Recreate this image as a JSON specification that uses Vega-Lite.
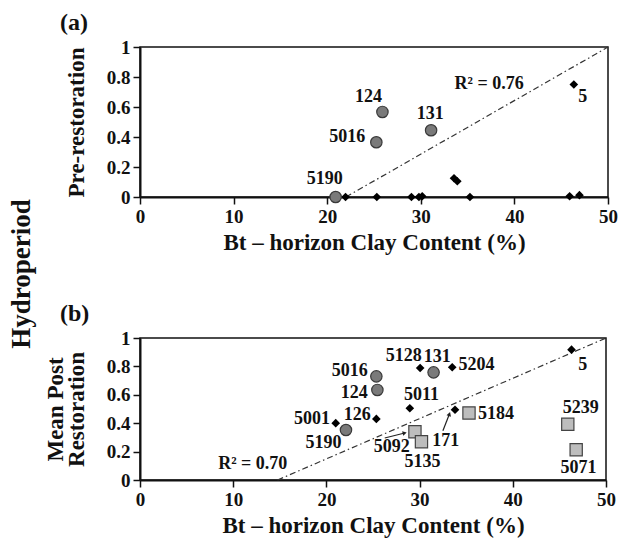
{
  "$schema": "https://vega.github.io/schema/vega-lite/v6.json",
  "background": "white",
  "padding": {"left": 7, "top": 10, "right": 10, "bottom": 5},
  "config": {
    "font": "Liberation Serif",
    "view": {"stroke": "#111", "strokeWidth": 1.5},
    "axis": {"grid": false, "domainColor": "#111", "domainWidth": 2, "tickColor": "#111", "tickWidth": 1.5, "tickSize": 7,
      "labelFont": "Liberation Serif", "labelFontWeight": "bold", "labelFontSize": 19, "labelColor": "#111", "labelPadding": 3, "labelOverlap": false, "labelBound": false, "labelFlush": false,
      "titleFont": "Liberation Serif", "titleFontWeight": "bold", "titleFontSize": 23, "titleColor": "#111"},
    "text": {"font": "Liberation Serif", "fontWeight": "bold", "fontSize": 18, "color": "#111"}
  },
  "title": {"text": "Hydroperiod", "orient": "left", "anchor": "middle", "fontSize": 27, "fontWeight": "bold", "font": "Liberation Serif", "color": "#111", "offset": 8},
  "datasets": {
    "ptsA": [
      {"site": "5190", "clay": 20.9, "hp": 0.0, "group": "circle"},
      {"site": "124", "clay": 25.9, "hp": 0.567, "group": "circle"},
      {"site": "5016", "clay": 25.25, "hp": 0.365, "group": "circle"},
      {"site": "131", "clay": 31.1, "hp": 0.445, "group": "circle"},
      {"site": "5", "clay": 46.35, "hp": 0.75, "group": "diamond"},
      {"site": "d1", "clay": 21.96, "hp": 0.0, "group": "diamond"},
      {"site": "d2", "clay": 25.3, "hp": 0.0, "group": "diamond"},
      {"site": "d3", "clay": 29.0, "hp": 0.0, "group": "diamond"},
      {"site": "d4", "clay": 29.8, "hp": 0.0, "group": "diamond"},
      {"site": "d5", "clay": 30.15, "hp": 0.005, "group": "diamond"},
      {"site": "d6", "clay": 33.55, "hp": 0.125, "group": "diamond"},
      {"site": "d7", "clay": 33.9, "hp": 0.105, "group": "diamond"},
      {"site": "d8", "clay": 35.25, "hp": 0.0, "group": "diamond"},
      {"site": "d9", "clay": 45.9, "hp": 0.005, "group": "diamond"},
      {"site": "d10", "clay": 46.95, "hp": 0.012, "group": "diamond"}
    ],
    "labA": [
      {"label": "124", "lx": 24.4, "ly": 0.67},
      {"label": "5016", "lx": 22.15, "ly": 0.40},
      {"label": "131", "lx": 31.0, "ly": 0.555},
      {"label": "5190", "lx": 19.75, "ly": 0.122},
      {"label": "5", "lx": 47.3, "ly": 0.665},
      {"label": "R² = 0.76", "lx": 37.3, "ly": 0.755}
    ],
    "fitA": [
      {"clay": 22.0, "hp": 0.0},
      {"clay": 50.0, "hp": 1.0}
    ],
    "ptsB": [
      {"site": "5016", "clay": 25.36, "hp": 0.73, "group": "circle"},
      {"site": "124", "clay": 25.47, "hp": 0.634, "group": "circle"},
      {"site": "131", "clay": 31.5, "hp": 0.758, "group": "circle"},
      {"site": "5190", "clay": 22.1, "hp": 0.352, "group": "circle"},
      {"site": "5", "clay": 46.3, "hp": 0.918, "group": "diamond"},
      {"site": "5128", "clay": 30.06, "hp": 0.789, "group": "diamond"},
      {"site": "5204", "clay": 33.5, "hp": 0.794, "group": "diamond"},
      {"site": "5011", "clay": 28.95, "hp": 0.505, "group": "diamond"},
      {"site": "171", "clay": 33.8, "hp": 0.495, "group": "diamond"},
      {"site": "126", "clay": 25.36, "hp": 0.43, "group": "diamond"},
      {"site": "5001", "clay": 21.0, "hp": 0.40, "group": "diamond"},
      {"site": "5092", "clay": 29.5, "hp": 0.34, "group": "square"},
      {"site": "5135", "clay": 30.2, "hp": 0.27, "group": "square"},
      {"site": "5184", "clay": 35.3, "hp": 0.472, "group": "square"},
      {"site": "5239", "clay": 45.9, "hp": 0.392, "group": "square"},
      {"site": "5071", "clay": 46.8, "hp": 0.213, "group": "square"}
    ],
    "labB": [
      {"label": "5128", "lx": 28.3, "ly": 0.87},
      {"label": "131", "lx": 31.9, "ly": 0.866},
      {"label": "5204", "lx": 36.1, "ly": 0.81},
      {"label": "5", "lx": 47.5, "ly": 0.81},
      {"label": "5016", "lx": 22.5, "ly": 0.768},
      {"label": "124", "lx": 23.0, "ly": 0.611},
      {"label": "5011", "lx": 30.2, "ly": 0.596},
      {"label": "126", "lx": 23.3, "ly": 0.458},
      {"label": "5001", "lx": 18.45, "ly": 0.428},
      {"label": "5184", "lx": 38.2, "ly": 0.463},
      {"label": "5239", "lx": 47.3, "ly": 0.506},
      {"label": "5190", "lx": 19.7, "ly": 0.259},
      {"label": "5092", "lx": 27.0, "ly": 0.229},
      {"label": "171", "lx": 32.8, "ly": 0.276},
      {"label": "5135", "lx": 30.3, "ly": 0.128},
      {"label": "5071", "lx": 47.05, "ly": 0.083},
      {"label": "R² = 0.70", "lx": 12.1, "ly": 0.116}
    ],
    "fitB": [
      {"clay": 14.76, "hp": 0.0},
      {"clay": 50.0, "hp": 1.0}
    ],
    "arrows": [
      {"label": "5092", "x1": 26.26, "y1": 0.296, "x2": 28.4, "y2": 0.331},
      {"label": "171", "x1": 32.5, "y1": 0.347, "x2": 33.2, "y2": 0.465}
    ]
  },
  "vconcat": [
    {
      "width": 468,
      "height": 150,
      "title": {"text": "(a)", "anchor": "start", "frame": "group", "dx": -80, "fontSize": 24, "fontWeight": "bold", "font": "Liberation Serif", "color": "#111", "offset": 3},
      "layer": [
        {
          "data": {"name": "fitA"},
          "mark": {"type": "line", "color": "#333", "strokeWidth": 1.2, "strokeDash": [6, 3, 1.5, 3]},
          "encoding": {
            "x": {"field": "clay", "type": "quantitative", "scale": {"domain": [0, 50]}, "axis": {"values": [0, 10, 20, 30, 40, 50], "title": "Bt – horizon Clay Content (%)", "titlePadding": 5}},
            "y": {"field": "hp", "type": "quantitative", "scale": {"domain": [0, 1]}, "axis": {"tickCount": 5, "labelOverlap": false, "format": "~g", "title": "Pre-restoration", "titlePadding": 18}}
          }
        },
        {
          "data": {"name": "ptsA"},
          "transform": [{"filter": "datum.group === 'diamond'"}],
          "mark": {"type": "point", "shape": "diamond", "filled": true, "color": "#000", "size": 75, "opacity": 1},
          "encoding": {
            "x": {"field": "clay", "type": "quantitative"},
            "y": {"field": "hp", "type": "quantitative"}
          }
        },
        {
          "data": {"name": "ptsA"},
          "transform": [{"filter": "datum.group === 'circle'"}],
          "mark": {"type": "point", "shape": "circle", "filled": true, "fill": "#7a7a7a", "stroke": "#3a3a3a", "strokeWidth": 1.2, "size": 130, "opacity": 1},
          "encoding": {
            "x": {"field": "clay", "type": "quantitative"},
            "y": {"field": "hp", "type": "quantitative"}
          }
        },
        {
          "data": {"name": "labA"},
          "mark": {"type": "text", "align": "center", "baseline": "middle"},
          "encoding": {
            "x": {"field": "lx", "type": "quantitative"},
            "y": {"field": "ly", "type": "quantitative"},
            "text": {"field": "label"}
          }
        }
      ]
    },
    {
      "width": 466,
      "height": 142,
      "title": {"text": "(b)", "anchor": "start", "frame": "group", "dx": -80, "fontSize": 24, "fontWeight": "bold", "font": "Liberation Serif", "color": "#111", "offset": 3},
      "layer": [
        {
          "data": {"name": "fitB"},
          "mark": {"type": "line", "color": "#333", "strokeWidth": 1.2, "strokeDash": [6, 3, 1.5, 3]},
          "encoding": {
            "x": {"field": "clay", "type": "quantitative", "scale": {"domain": [0, 50]}, "axis": {"values": [0, 10, 20, 30, 40, 50], "title": "Bt – horizon Clay Content (%)", "titlePadding": 5}},
            "y": {"field": "hp", "type": "quantitative", "scale": {"domain": [0, 1]}, "axis": {"tickCount": 5, "labelOverlap": false, "format": "~g", "title": ["Mean Post", "Restoration"], "titleLineHeight": 21, "titlePadding": 18}}
          }
        },
        {
          "data": {"name": "arrows"},
          "mark": {"type": "rule", "color": "#222", "strokeWidth": 1.2},
          "encoding": {
            "x": {"field": "x1", "type": "quantitative"},
            "y": {"field": "y1", "type": "quantitative"},
            "x2": {"field": "x2"},
            "y2": {"field": "y2"}
          }
        },
        {
          "data": {"name": "arrows"},
          "transform": [{"filter": "datum.label === '5092'"}],
          "mark": {"type": "point", "shape": "triangle-up", "filled": true, "color": "#222", "size": 22, "angle": 76, "opacity": 1},
          "encoding": {
            "x": {"field": "x2", "type": "quantitative"},
            "y": {"field": "y2", "type": "quantitative"}
          }
        },
        {
          "data": {"name": "arrows"},
          "transform": [{"filter": "datum.label === '171'"}],
          "mark": {"type": "point", "shape": "triangle-up", "filled": true, "color": "#222", "size": 22, "angle": 19, "opacity": 1},
          "encoding": {
            "x": {"field": "x2", "type": "quantitative"},
            "y": {"field": "y2", "type": "quantitative"}
          }
        },
        {
          "data": {"name": "ptsB"},
          "transform": [{"filter": "datum.group === 'diamond'"}],
          "mark": {"type": "point", "shape": "diamond", "filled": true, "color": "#000", "size": 75, "opacity": 1},
          "encoding": {
            "x": {"field": "clay", "type": "quantitative"},
            "y": {"field": "hp", "type": "quantitative"}
          }
        },
        {
          "data": {"name": "ptsB"},
          "transform": [{"filter": "datum.group === 'circle'"}],
          "mark": {"type": "point", "shape": "circle", "filled": true, "fill": "#7a7a7a", "stroke": "#3a3a3a", "strokeWidth": 1.2, "size": 130, "opacity": 1},
          "encoding": {
            "x": {"field": "clay", "type": "quantitative"},
            "y": {"field": "hp", "type": "quantitative"}
          }
        },
        {
          "data": {"name": "ptsB"},
          "transform": [{"filter": "datum.group === 'square'"}],
          "mark": {"type": "point", "shape": "square", "filled": true, "fill": "#bdbdbd", "stroke": "#444", "strokeWidth": 1.2, "size": 150, "opacity": 1},
          "encoding": {
            "x": {"field": "clay", "type": "quantitative"},
            "y": {"field": "hp", "type": "quantitative"}
          }
        },
        {
          "data": {"name": "labB"},
          "mark": {"type": "text", "align": "center", "baseline": "middle"},
          "encoding": {
            "x": {"field": "lx", "type": "quantitative"},
            "y": {"field": "ly", "type": "quantitative"},
            "text": {"field": "label"}
          }
        }
      ]
    }
  ],
  "spacing": 46
}
